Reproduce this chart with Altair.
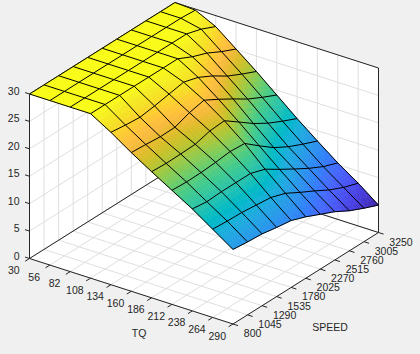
import altair as alt
import pandas as pd

# ---------- data ----------
TQ = [30, 56, 82, 108, 134, 160, 186, 212, 238, 264, 290]
SPEED = [800, 1045, 1290, 1535, 1780, 2025, 2270, 2515, 2760, 3005, 3250]
Z_TICKS = [0, 5, 10, 15, 20, 25, 30]
# one row per TQ, one column per SPEED
Z = [
    [30, 30, 30, 30, 30, 30, 30, 30, 30, 30, 30],
    [30, 30, 30, 30, 30, 30, 30, 30, 30, 30, 29.8],
    [30, 30, 30, 30, 30, 30, 30, 30, 30, 29.2, 28],
    [30, 30, 30, 30, 30, 30, 30, 28.7, 27.7, 26.3, 25.1],
    [27.8, 27.45, 27.2, 27.6, 28.1, 28.6, 27.8, 26.4, 24.7, 23.4, 22.2],
    [25.3, 25.1, 24.85, 24.9, 25.9, 26.5, 25, 23.4, 21.7, 20.35, 19.1],
    [23, 22.85, 22.9, 23, 23.75, 23.95, 22.05, 20.1, 18.5, 17.2, 16],
    [20.8, 20.65, 20.7, 20.9, 21.2, 21, 18.9, 16.9, 15.4, 14.2, 13.1],
    [18.6, 18.25, 18.4, 18.4, 18.4, 17.5, 15.8, 14.2, 12.65, 11.3, 10.3],
    [16.1, 15.9, 15.8, 15.5, 15.2, 14.3, 12.8, 11.4, 9.9, 8.7, 7.8],
    [13.6, 13.3, 13.1, 12.6, 12.2, 11.2, 10, 8.8, 7.3, 6.1, 5],
]
PARULA = [
    (0.2422,0.1504,0.6603),(0.2504,0.1650,0.7076),(0.2578,0.1818,0.7511),(0.2647,0.1978,0.7952),
    (0.2706,0.2147,0.8364),(0.2751,0.2342,0.8710),(0.2783,0.2559,0.8991),(0.2803,0.2782,0.9221),
    (0.2813,0.3006,0.9414),(0.2810,0.3228,0.9579),(0.2795,0.3447,0.9717),(0.2760,0.3667,0.9829),
    (0.2699,0.3892,0.9906),(0.2602,0.4123,0.9952),(0.2440,0.4358,0.9988),(0.2206,0.4603,0.9973),
    (0.1963,0.4847,0.9892),(0.1834,0.5074,0.9798),(0.1786,0.5289,0.9682),(0.1764,0.5499,0.9520),
    (0.1687,0.5703,0.9359),(0.1540,0.5902,0.9218),(0.1460,0.6091,0.9079),(0.1380,0.6276,0.8973),
    (0.1248,0.6459,0.8883),(0.1113,0.6635,0.8763),(0.0952,0.6798,0.8598),(0.0689,0.6948,0.8394),
    (0.0297,0.7082,0.8163),(0.0036,0.7203,0.7917),(0.0067,0.7312,0.7660),(0.0433,0.7411,0.7394),
    (0.0964,0.7500,0.7120),(0.1408,0.7584,0.6842),(0.1717,0.7670,0.6554),(0.1938,0.7758,0.6251),
    (0.2161,0.7843,0.5923),(0.2470,0.7918,0.5567),(0.2906,0.7973,0.5188),(0.3406,0.8008,0.4789),
    (0.3909,0.8029,0.4354),(0.4456,0.8024,0.3909),(0.5044,0.7993,0.3480),(0.5616,0.7942,0.3045),
    (0.6174,0.7876,0.2612),(0.6720,0.7793,0.2227),(0.7242,0.7698,0.1910),(0.7738,0.7598,0.1646),
    (0.8203,0.7498,0.1535),(0.8634,0.7406,0.1596),(0.9035,0.7330,0.1774),(0.9393,0.7288,0.2100),
    (0.9728,0.7298,0.2394),(0.9956,0.7434,0.2371),(0.9970,0.7659,0.2199),(0.9952,0.7861,0.1990),
    (0.9892,0.8134,0.1761),(0.9786,0.8422,0.1563),(0.9676,0.8726,0.1445),(0.9610,0.8911,0.1353),
    (0.9597,0.9135,0.1350),(0.9628,0.9373,0.1265),(0.9691,0.9606,0.1064),(0.9769,0.9839,0.0805),
]

# ---------- orthographic view of the 3-D box ----------
W, H = 420, 354
ORIGIN = (29.5, 258.5)     # floor corner TQ=30, SPEED=800
STEP_TQ = (20.35, 6.55)    # one TQ step on screen
STEP_SP = (14.55, -9.15)   # one SPEED step on screen
PX_PER_Z = 5.483
ZMIN, ZMAX = 5.0, 30.0
N = len(TQ) - 1
SUB = 5


def proj(i, j, z=0.0):
    return (ORIGIN[0] + STEP_TQ[0] * i + STEP_SP[0] * j,
            ORIGIN[1] + STEP_TQ[1] * i + STEP_SP[1] * j - PX_PER_Z * z)


def colour(z):
    t = max(0.0, min(1.0, (z - ZMIN) / (ZMAX - ZMIN))) * (len(PARULA) - 1)
    a = int(t)
    b = min(a + 1, len(PARULA) - 1)
    f = t - a
    rgb = [PARULA[a][k] * (1 - f) + PARULA[b][k] * f for k in range(3)]
    return "#%02x%02x%02x" % tuple(round(v * 255) for v in rgb)


def poly(points, fill):
    ring = [list(p) for p in points] + [list(points[0])]
    return {"type": "Feature", "properties": {"c": fill},
            "geometry": {"type": "Polygon", "coordinates": [ring]}}


def zval(i0, j0, a, b):
    return (Z[i0][j0] * (1 - a) * (1 - b) + Z[i0 + 1][j0] * a * (1 - b)
            + Z[i0][j0 + 1] * (1 - a) * b + Z[i0 + 1][j0 + 1] * a * b)


# walls and floor
walls = [
    poly([proj(0, 0), proj(0, N), proj(0, N, 30), proj(0, 0, 30)], "#ffffff"),
    poly([proj(0, N), proj(N, N), proj(N, N, 30), proj(0, N, 30)], "#ffffff"),
    poly([proj(0, 0), proj(N, 0), proj(N, N), proj(0, N)], "#ffffff"),
]

# surface, far cells first, shaded per small patch
cells = sorted(((i, j) for i in range(N) for j in range(N)), key=lambda c: c[0] - c[1])
surface = []
for i0, j0 in cells:
    for p in range(SUB):
        for q in range(SUB):
            corners = []
            for a, b in [(p, q), (p + 1, q), (p + 1, q + 1), (p, q + 1)]:
                fa, fb = a / SUB, b / SUB
                corners.append(proj(i0 + fa, j0 + fb, zval(i0, j0, fa, fb)))
            c = colour(zval(i0, j0, (p + .5) / SUB, (q + .5) / SUB))
            surface.append(poly(corners, c))


def lines(segments):
    rows = []
    for sid, pts in enumerate(segments):
        for k, (x, y) in enumerate(pts):
            rows.append({"id": sid, "k": k, "x": x, "y": y})
    return pd.DataFrame(rows)


grid_seg, box_seg, front_seg, mesh_seg = [], [], [], []
for t in range(N + 1):
    grid_seg.append([proj(t, 0), proj(t, N)])
    grid_seg.append([proj(0, t), proj(N, t)])
    grid_seg.append([proj(0, t), proj(0, t, 30)])
    grid_seg.append([proj(t, N), proj(t, N, 30)])
for zt in Z_TICKS:
    grid_seg.append([proj(0, 0, zt), proj(0, N, zt)])
    grid_seg.append([proj(0, N, zt), proj(N, N, zt)])

box_seg += [[proj(0, 0), proj(0, N)], [proj(0, N), proj(N, N)],
            [proj(0, 0, 30), proj(0, N, 30)], [proj(0, N, 30), proj(N, N, 30)],
            [proj(N, N), proj(N, N, 30)]]
front_seg += [[proj(0, 0), proj(0, 0, 30)], [proj(0, 0), proj(N, 0)], [proj(N, 0), proj(N, N)]]
for t in range(N + 1):
    front_seg.append([proj(t, 0), proj(t, -0.3)])
    front_seg.append([proj(N, t), proj(N + 0.25, t)])
for zt in Z_TICKS:
    front_seg.append([proj(0, 0, zt), proj(-0.22, 0, zt)])

for i in range(N + 1):
    mesh_seg.append([proj(i, j, Z[i][j]) for j in range(N + 1)])
for j in range(N + 1):
    mesh_seg.append([proj(i, j, Z[i][j]) for i in range(N + 1)])

# labels, placed relative to their ticks
labels_r = [{"x": proj(0, 0, z)[0] - 10, "y": proj(0, 0, z)[1] - 2, "t": str(z)} for z in Z_TICKS]
labels_c = [{"x": proj(i, 0)[0] - 15.7, "y": proj(i, 0)[1] + 12.5, "t": str(v)} for i, v in enumerate(TQ)]
labels_l = [{"x": proj(N, j)[0] + 10.8, "y": proj(N, j)[1] + 10, "t": str(v)} for j, v in enumerate(SPEED)]
labels_c += [{"x": proj(5, 0)[0] + 7.8, "y": proj(5, 0)[1] + 43, "t": "TQ"},
             {"x": proj(N, 0)[0] + 97, "y": proj(N, 0)[1] + 4, "t": "SPEED"}]

X = alt.X("x:Q", scale=alt.Scale(domain=[0, W], range=[0, W]), axis=None)
Y = alt.Y("y:Q", scale=alt.Scale(domain=[0, H], range=[0, H]), axis=None)
FONT = "Liberation Sans"
INK = "#262626"


def shapes(features):
    return (alt.Chart(alt.Data(values=features)).mark_geoshape(strokeWidth=0.6)
            .encode(fill=alt.Fill("properties.c:N", scale=None),
                    stroke=alt.Stroke("properties.c:N", scale=None))
            .project(type="identity", scale=1, translate=[0, 0]))


def linelayer(segs, color, width):
    return (alt.Chart(lines(segs)).mark_line(color=color, strokeWidth=width, clip=False)
            .encode(x=X, y=Y, detail="id:N", order="k:Q"))


def textlayer(rows, align):
    return (alt.Chart(pd.DataFrame(rows))
            .mark_text(align=align, baseline="middle", font=FONT, fontSize=10.5, color=INK)
            .encode(x=X, y=Y, text="t:N"))


chart = alt.layer(
    shapes(walls),
    linelayer(grid_seg, "#dfdfdf", 1),
    linelayer(box_seg, INK, 1),
    shapes(surface),
    linelayer(mesh_seg, "#000000", 1),
    linelayer(front_seg, INK, 1),
    textlayer(labels_r, "right"),
    textlayer(labels_c, "center"),
    textlayer(labels_l, "left"),
).properties(width=W, height=H, background="#f0f0f0", padding=0,
             autosize=alt.AutoSizeParams(type="none")
).configure_view(stroke=None)

chart.save("out.html", embed_options={
    "renderer": "svg", "actions": False,
    "defaultStyle": "html,body{margin:0;padding:0;background:#f0f0f0;overflow:hidden}"})
